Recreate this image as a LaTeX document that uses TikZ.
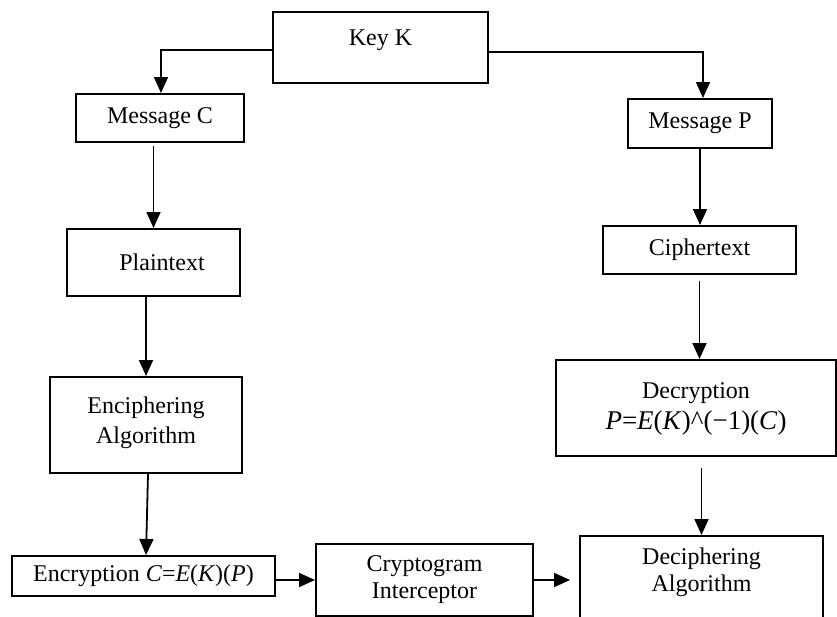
\documentclass[tikz,border=0pt]{standalone}
\usepackage{fontspec}
\setmainfont{Liberation Serif}
\usetikzlibrary{arrows.meta}

\begin{document}
\begin{tikzpicture}[x=0.5pt, y=-0.5pt,
  box/.style={draw, line width=1pt, inner sep=2pt, align=center, font=\fontsize{12}{13.5}\selectfont},
  arr/.style={line width=0.9pt, -{Triangle[length=8pt, width=7pt]}}]

\useasboundingbox (0,0) rectangle (837,617);

% left column
\node[box, minimum width=107.5pt, minimum height=35.5pt, text height=8pt, text depth=10.5pt] (key) at (380.5,47.5) {Key K};
\node[box, minimum width=84pt, minimum height=24pt] (msgc) at (160,118) {Message C};
\node[box, minimum width=86.5pt, minimum height=33.5pt] (plain) at (153.5,262.5) {\hspace*{8.5pt}Plaintext};
\node[box, minimum width=96pt, minimum height=48pt, text depth=5pt] (encip) at (146,425) {Enciphering\\[1.5pt]Algorithm};
\node[box, minimum width=131.5pt, minimum height=20pt] (encr) at (143.5,576) {Encryption \textit{C}=\textit{E}(\textit{K})(\textit{P})};

% bottom middle
\node[box, minimum width=108.5pt, minimum height=36pt] (crypt) at (424.5,580) {Cryptogram\\Interceptor};

% right column
\node[box, minimum width=72pt, minimum height=24.5pt] (msgp) at (700,123.5) {Message P};
\node[box, minimum width=96.5pt, minimum height=24pt] (cipher) at (699.5,250) {Ciphertext};
\node[box, minimum width=140pt, minimum height=48pt, text depth=2pt] (decr) at (696,408) {Decryption\\[2pt]{\fontsize{13.5}{15}\selectfont\textit{P}=\textit{E}(\textit{K})\^{}(−1)(\textit{C})}};
\node[box, minimum width=121.5pt, minimum height=44pt, text depth=10pt] (deciph) at (701.5,580) {Deciphering\\Algorithm};

% connectors
\draw[arr] ([yshift=-1.25pt]key.west) -| ([xshift=0.5pt]msgc.north);
\draw[arr] ([yshift=-2.25pt]key.east) -| ([xshift=1.5pt]msgp.north);
\draw[arr] ([yshift=-1.5pt]plain.north |- msgc.south) -- (plain.north);
\draw[arr] (encip.north |- plain.south) -- (encip.north);
\draw[arr] ([xshift=1pt]encip.south) -- ([xshift=1.25pt]encr.north);
\draw[arr] (encr.east |- crypt.west) -- (crypt.west);
\draw[arr, shorten >=4.5pt] (crypt.east) -- (deciph.west);
\draw[arr] (msgp.south) -- (msgp.south |- cipher.north);
\draw[arr] ([yshift=-3pt]cipher.south) -- (cipher.south |- decr.north);
\draw[arr] ([yshift=-5.5pt]deciph.north |- decr.south) -- (deciph.north);

\end{tikzpicture}
\end{document}
